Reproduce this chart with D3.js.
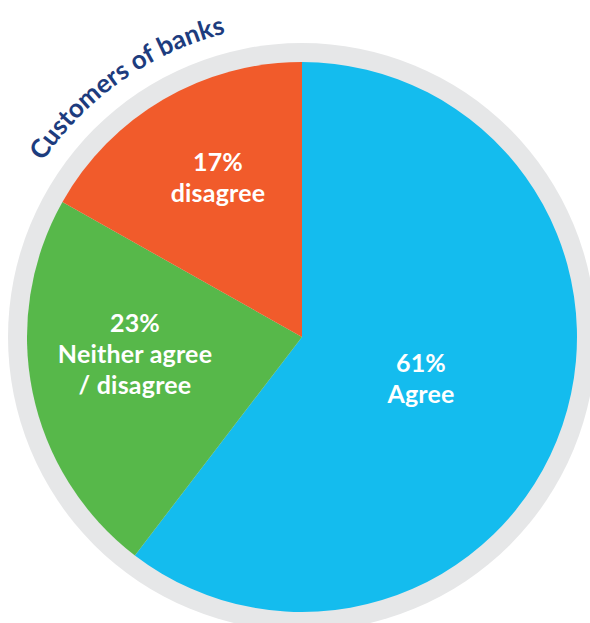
<!DOCTYPE html>
<html>
<head>
<meta charset="utf-8">
<script src="https://cdn.jsdelivr.net/npm/d3@7"></script>
<style>
  html, body { margin: 0; padding: 0; background: #ffffff; }
  svg { display: block; }
</style>
</head>
<body>
<svg id="chart" width="590" height="623"></svg>
<script>
// ---- data ----
const categories = ["Agree", "Neither agree / disagree", "disagree"];
const values = [61, 23, 17];
const labelLines = [["61%", "Agree"], ["23%", "Neither agree", "/ disagree"], ["17%", "disagree"]];
const colors = ["#14BCEE", "#57B84A", "#F15B2B"];
const title = "Customers of banks";

// ---- layout ----
const cx = 302, cy = 337;
const R = 275;
const ringR = 294;

const svg = d3.select("#chart");
const g = svg.append("g").attr("transform", `translate(${cx},${cy})`);

// grey ring
g.append("circle").attr("r", ringR).attr("fill", "#E6E7E8");

const pie = d3.pie().sort(null).value(d => d)(values);
const arc = d3.arc().innerRadius(0).outerRadius(R);

g.selectAll("path.slice")
  .data(pie)
  .join("path")
  .attr("class", "slice")
  .attr("d", arc)
  .attr("fill", (d, i) => colors[i]);

// labels
const labelPos = [
  {x: 421 - cx, y: 372 - cy},
  {x: 135 - cx, y: 332 - cy},
  {x: 218 - cx, y: 171 - cy}
];
const lineH = 31;
const lab = g.selectAll("text.lab")
  .data(pie)
  .join("text")
  .attr("class", "lab")
  .attr("text-anchor", "middle")
  .attr("fill", "#ffffff")
  .style("font-family", "Lato, 'Open Sans', sans-serif")
  .style("font-weight", "700")
  .style("font-size", "25px")
  .style("letter-spacing", "0.2px")
  .attr("transform", (d, i) => `translate(${labelPos[i].x},${labelPos[i].y})`);
lab.each(function(d, i) {
  const t = d3.select(this);
  labelLines[i].forEach((ln, k) => {
    t.append("tspan").attr("x", 0).attr("y", k * lineH).text(ln);
  });
});

// curved title
const tr = 313;
const mid = -35;
const a0 = (mid - 50) * Math.PI / 180, a1 = (mid + 50) * Math.PI / 180;
const p = d3.path();
p.arc(0, 0, tr, a0 - Math.PI / 2, a1 - Math.PI / 2, false);
g.append("path").attr("id", "titlePath").attr("d", p.toString()).attr("fill", "none");
g.append("text")
  .style("font-family", "Lato, 'Open Sans', sans-serif")
  .style("font-weight", "700")
  .style("font-size", "26px")
  .attr("fill", "#1D3C7E")
  .append("textPath")
  .attr("href", "#titlePath")
  .attr("startOffset", "50%")
  .attr("text-anchor", "middle")
  .text(title);
</script>
</body>
</html>
